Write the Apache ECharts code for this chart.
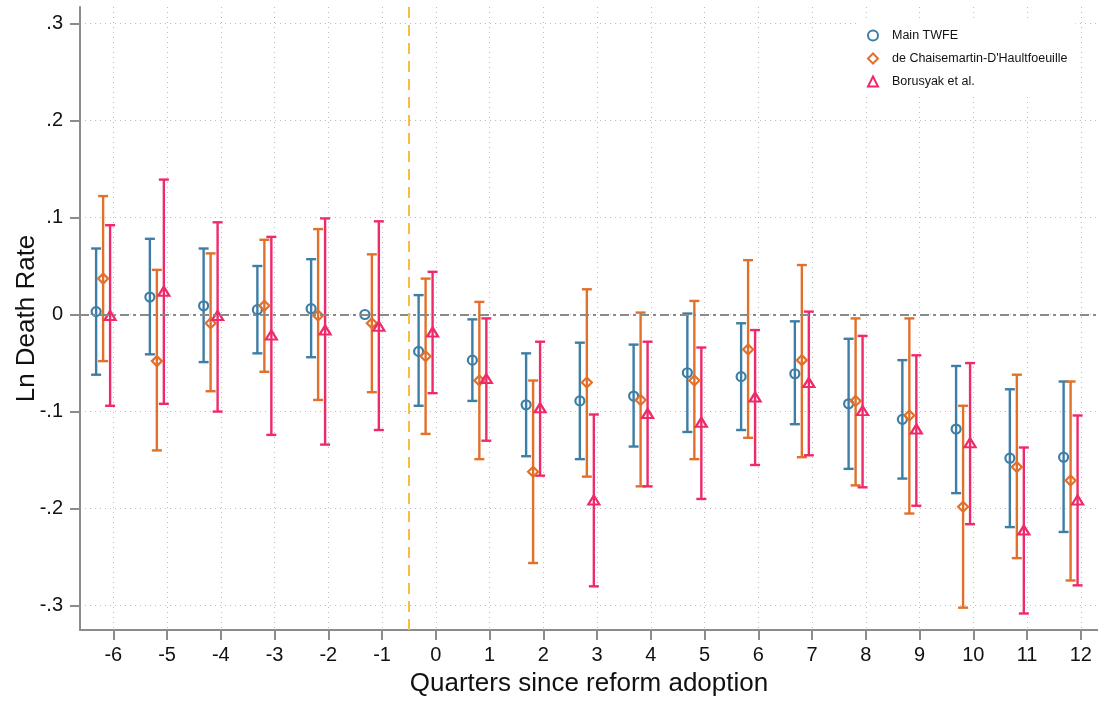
<!DOCTYPE html>
<html>
<head>
<meta charset="utf-8">
<script src="https://cdn.jsdelivr.net/npm/echarts@6/dist/echarts.min.js"></script>
<style>
  html, body { margin: 0; padding: 0; background: #fff; }
  #chart { width: 1098px; height: 704px; }
</style>
</head>
<body>
<div id="chart"></div>
<script>
// ---- Data ----
const quarters = [-6, -5, -4, -3, -2, -1, 0, 1, 2, 3, 4, 5, 6, 7, 8, 9, 10, 11, 12];

const twfePoint = [0.003, 0.018, 0.009, 0.005, 0.006, 0.000, -0.038, -0.047, -0.093, -0.089, -0.084, -0.060, -0.064, -0.061, -0.092, -0.108, -0.118, -0.148, -0.147];
const twfeLow   = [-0.062, -0.041, -0.049, -0.040, -0.044, null, -0.094, -0.089, -0.146, -0.149, -0.136, -0.121, -0.119, -0.113, -0.159, -0.169, -0.184, -0.219, -0.224];
const twfeHigh  = [0.068, 0.078, 0.068, 0.050, 0.057, null, 0.020, -0.005, -0.040, -0.029, -0.031, 0.001, -0.009, -0.007, -0.025, -0.047, -0.053, -0.077, -0.069];

const dcdhPoint = [0.037, -0.048, -0.009, 0.009, -0.001, -0.009, -0.043, -0.068, -0.162, -0.070, -0.088, -0.068, -0.036, -0.047, -0.089, -0.104, -0.198, -0.157, -0.171];
const dcdhLow   = [-0.048, -0.140, -0.079, -0.059, -0.088, -0.080, -0.123, -0.149, -0.256, -0.167, -0.177, -0.149, -0.127, -0.147, -0.176, -0.205, -0.302, -0.251, -0.274];
const dcdhHigh  = [0.122, 0.046, 0.063, 0.077, 0.088, 0.062, 0.037, 0.013, -0.068, 0.026, 0.002, 0.014, 0.056, 0.051, -0.004, -0.004, -0.094, -0.062, -0.069];

const bjsPoint = [-0.001, 0.024, -0.001, -0.021, -0.016, -0.012, -0.018, -0.066, -0.096, -0.191, -0.102, -0.111, -0.085, -0.070, -0.099, -0.118, -0.132, -0.222, -0.191];
const bjsLow   = [-0.094, -0.092, -0.100, -0.124, -0.134, -0.119, -0.081, -0.130, -0.166, -0.280, -0.177, -0.190, -0.155, -0.145, -0.178, -0.197, -0.216, -0.308, -0.279];
const bjsHigh  = [0.092, 0.139, 0.095, 0.080, 0.099, 0.096, 0.044, -0.004, -0.028, -0.103, -0.028, -0.034, -0.016, 0.003, -0.022, -0.042, -0.050, -0.137, -0.104];

const seriesNames = ['Main TWFE', "de Chaisemartin-D'Haultfoeuille", 'Borusyak et al.'];
const xTicks = [-6, -5, -4, -3, -2, -1, 0, 1, 2, 3, 4, 5, 6, 7, 8, 9, 10, 11, 12];
const yTicks = [-0.3, -0.2, -0.1, 0, 0.1, 0.2, 0.3];
const reformLine = -0.5;

// ---- Style ----
const FONT = "'Liberation Sans', Arial, Helvetica, sans-serif";
const colors = ['#3d7ea6', '#e0702a', '#ef2a6a'];
const offsets = [-0.32, -0.19, -0.06];
const symbols = ['circle', 'diamond', 'triangle'];
const symbolSizes = [9, 10, [11, 9]];

function fmtY(v) {
  if (Math.abs(v) < 1e-9) return '0';
  let s = v.toFixed(1);
  return s.replace('0.', '.');
}

function errorSeries(lo, hi, k) {
  const data = [];
  quarters.forEach((q, i) => {
    if (lo[i] != null && hi[i] != null) data.push([q + offsets[k], lo[i], hi[i]]);
  });
  const c = colors[k];
  return {
    type: 'custom',
    name: 'ci' + k,
    silent: true,
    z: 2,
    encode: { x: 0, y: [1, 2] },
    data: data,
    renderItem: function (params, api) {
      const top = api.coord([api.value(0), api.value(2)]);
      const bot = api.coord([api.value(0), api.value(1)]);
      const hw = 5;
      const st = { stroke: c, lineWidth: 2.4 };
      return {
        type: 'group',
        children: [
          { type: 'line', shape: { x1: top[0], y1: top[1], x2: bot[0], y2: bot[1] }, style: st },
          { type: 'line', shape: { x1: top[0] - hw, y1: top[1], x2: top[0] + hw, y2: top[1] }, style: st },
          { type: 'line', shape: { x1: bot[0] - hw, y1: bot[1], x2: bot[0] + hw, y2: bot[1] }, style: st }
        ]
      };
    }
  };
}

function pointSeries(pts, k) {
  return {
    type: 'scatter',
    name: seriesNames[k],
    symbol: symbols[k],
    symbolSize: symbolSizes[k],
    z: 3,
    itemStyle: { color: 'rgba(255,255,255,0)', borderColor: colors[k], borderWidth: 2.2, opacity: 1 },
    emphasis: { disabled: true },
    data: quarters.map((q, i) => [q + offsets[k], pts[i]])
  };
}

const chart = echarts.init(document.getElementById('chart'), null, { renderer: 'canvas' });

const refLines = {
  type: 'line',
  name: 'refs',
  data: [],
  silent: true,
  markLine: {
    silent: true,
    symbol: 'none',
    label: { show: false },
    animation: false,
    data: [
      { yAxis: 0, lineStyle: { color: '#8a8a8a', width: 2, type: [9, 4, 3, 4] } },
      { xAxis: reformLine, lineStyle: { color: '#f8c03a', width: 2, type: [11, 7] } }
    ]
  }
};

chart.setOption({
  animation: false,
  backgroundColor: '#ffffff',
  textStyle: { fontFamily: FONT },
  grid: { left: 80, right: 0, top: 7, bottom: 74, containLabel: false, outerBoundsMode: 'none' },
  legend: {
    data: seriesNames,
    orient: 'vertical',
    left: 859,
    top: 20,
    padding: [8, 8],
    backgroundColor: '#ffffff',
    itemWidth: 10,
    itemHeight: 10,
    itemGap: 8,
    selectedMode: false,
    textStyle: { fontFamily: FONT, fontSize: 12.5, color: '#111', lineHeight: 15, padding: [0, 0, 0, 9] }
  },
  xAxis: {
    type: 'value',
    min: -6.62,
    max: 12.32,
    name: 'Quarters since reform adoption',
    nameLocation: 'middle',
    nameGap: 41,
    nameMoveOverlap: false,
    nameTextStyle: { fontFamily: FONT, fontSize: 26, color: '#111' },
    axisLine: { show: true, onZero: false, lineStyle: { color: '#8c8c8c', width: 2 } },
    axisTick: { show: true, length: 10, customValues: xTicks, lineStyle: { color: '#8c8c8c', width: 2 } },
    axisLabel: { customValues: xTicks, margin: 15, fontFamily: FONT, fontSize: 20, color: '#111' },
    splitLine: { show: true, lineStyle: { color: '#bdbdbd', width: 1, type: [1, 4] } }
  },
  yAxis: {
    type: 'value',
    min: -0.325,
    max: 0.3168,
    name: 'Ln Death Rate',
    nameLocation: 'middle',
    nameGap: 40,
    nameMoveOverlap: false,
    nameTextStyle: { fontFamily: FONT, fontSize: 26, color: '#111' },
    axisLine: { show: true, onZero: false, lineStyle: { color: '#8c8c8c', width: 2 } },
    axisTick: { show: true, length: 10, customValues: yTicks, lineStyle: { color: '#8c8c8c', width: 2 } },
    axisLabel: { customValues: yTicks, margin: 17, fontFamily: FONT, fontSize: 20, color: '#111', formatter: fmtY },
    splitLine: { show: true, lineStyle: { color: '#bdbdbd', width: 1, type: [1, 4] } }
  },
  series: [
    refLines,
    errorSeries(twfeLow, twfeHigh, 0),
    errorSeries(dcdhLow, dcdhHigh, 1),
    errorSeries(bjsLow, bjsHigh, 2),
    pointSeries(twfePoint, 0),
    pointSeries(dcdhPoint, 1),
    pointSeries(bjsPoint, 2)
  ]
});
</script>
</body>
</html>
